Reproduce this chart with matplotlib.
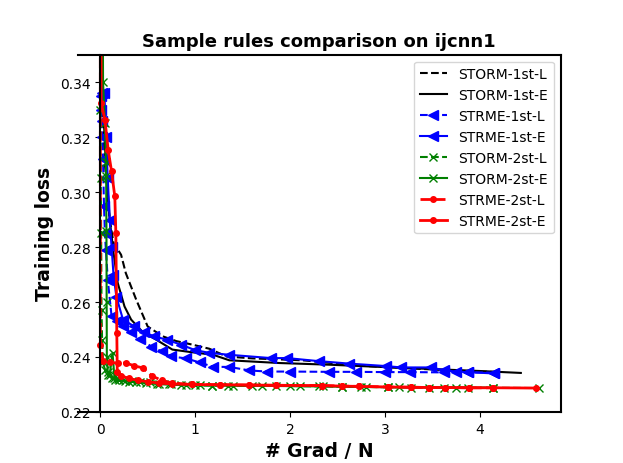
import matplotlib
matplotlib.use("Agg")
import matplotlib.pyplot as plt

# ---- data ----
storm1L_x = [0, 0.01, 0.05, 0.10, 0.14, 0.22, 0.27, 0.38, 0.50, 0.66, 0.80, 0.97, 1.15, 1.33, 1.60, 2.13, 2.76, 3.30, 3.90, 4.20]
storm1L_y = [0.693, 0.345, 0.310, 0.290, 0.2816, 0.2772, 0.2705, 0.2608, 0.2511, 0.2475, 0.2458, 0.2445, 0.2430, 0.2402, 0.2395, 0.2388, 0.2368, 0.2358, 0.2348, 0.2345]

storm1E_x = [0, 0.02, 0.06, 0.10, 0.14, 0.185, 0.256, 0.326, 0.45, 0.59, 0.76, 0.95, 1.19, 1.36, 1.89, 2.41, 2.94, 3.50, 4.00, 4.43]
storm1E_y = [0.693, 0.340, 0.310, 0.290, 0.278, 0.2669, 0.2584, 0.2536, 0.2490, 0.2463, 0.2427, 0.2418, 0.2408, 0.2388, 0.2378, 0.2372, 0.2364, 0.2356, 0.2349, 0.2342]

strme1L_x = [0, 0.005, 0.01, 0.015, 0.02, 0.03, 0.04, 0.05, 0.06, 0.08, 0.12, 0.18, 0.24, 0.32, 0.42, 0.54, 0.65, 0.75, 0.90, 1.05, 1.19, 1.36, 1.57, 1.76, 2.00, 2.41, 2.69, 3.00, 3.26, 3.62, 3.87, 4.15]
strme1L_y = [0.693, 0.335, 0.330, 0.326, 0.320, 0.312, 0.295, 0.285, 0.279, 0.268, 0.2548, 0.2530, 0.2511, 0.2490, 0.2465, 0.2438, 0.2420, 0.2402, 0.2395, 0.2380, 0.2364, 0.2364, 0.2351, 0.2347, 0.2347, 0.2346, 0.2346, 0.2345, 0.2345, 0.2344, 0.2344, 0.2343]

strme1E_x = [0, 0.02, 0.045, 0.06, 0.08, 0.10, 0.12, 0.14, 0.17, 0.24, 0.36, 0.46, 0.57, 0.70, 0.85, 1.00, 1.15, 1.36, 1.80, 1.97, 2.30, 2.62, 3.01, 3.17, 3.48, 3.62, 3.75, 3.87, 4.15]
strme1E_y = [0.693, 0.336, 0.336, 0.320, 0.305, 0.290, 0.280, 0.270, 0.262, 0.2536, 0.2511, 0.2490, 0.2475, 0.2463, 0.2445, 0.2425, 0.2415, 0.2408, 0.2396, 0.2396, 0.2385, 0.2376, 0.2367, 0.2362, 0.2362, 0.2352, 0.2347, 0.2345, 0.2340]

storm2L_x = [0, 0.002, 0.006, 0.010, 0.014, 0.02, 0.03, 0.05, 0.08, 0.12, 0.16, 0.20, 0.26, 0.33, 0.42, 0.52, 0.62, 0.75, 0.90, 1.05, 1.18, 1.35, 1.60, 1.85, 2.10, 2.35, 2.55, 2.75, 3.03, 3.15, 3.46, 3.75, 4.14, 4.62]
storm2L_y = [0.693, 0.330, 0.305, 0.285, 0.257, 0.2463, 0.2380, 0.2354, 0.2335, 0.2325, 0.2317, 0.2315, 0.2312, 0.2312, 0.2310, 0.2308, 0.2302, 0.2300, 0.2298, 0.2297, 0.2296, 0.2296, 0.2295, 0.2295, 0.2294, 0.2293, 0.2292, 0.2291, 0.2290, 0.2290, 0.2289, 0.2289, 0.2288, 0.2287]

storm2E_x = [0, 0.03, 0.05, 0.06, 0.063, 0.066, 0.068, 0.07, 0.08, 0.10, 0.13, 0.15, 0.19, 0.24, 0.30, 0.38, 0.48, 0.60, 0.72, 0.85, 1.00, 1.18, 1.40, 1.70, 2.00, 2.30, 2.55, 2.80, 3.03, 3.27, 3.62, 3.87, 4.14]
storm2E_y = [0.693, 0.340, 0.325, 0.311, 0.306, 0.2857, 0.260, 0.240, 0.2345, 0.2335, 0.2415, 0.2325, 0.2320, 0.2315, 0.2310, 0.2308, 0.2305, 0.2302, 0.2300, 0.2298, 0.2297, 0.2296, 0.2295, 0.2295, 0.2294, 0.2293, 0.2292, 0.2291, 0.2290, 0.2289, 0.2289, 0.2288, 0.2288]

strme2L_x = [0, 0.002, 0.03, 0.10, 0.19, 0.27, 0.36, 0.45, 0.55, 0.65, 0.76, 0.97, 1.26, 1.57, 1.85, 2.34, 2.55, 2.73, 3.03, 3.27, 3.46, 3.63, 3.88, 4.14]
strme2L_y = [0.693, 0.2444, 0.2384, 0.2380, 0.2378, 0.2378, 0.2368, 0.2360, 0.2330, 0.2315, 0.2305, 0.2300, 0.2299, 0.2298, 0.2297, 0.2296, 0.2294, 0.2293, 0.2291, 0.2290, 0.2289, 0.2289, 0.2288, 0.2288]

strme2E_x = [0, 0.01, 0.05, 0.084, 0.12, 0.154, 0.165, 0.175, 0.18, 0.22, 0.30, 0.40, 0.50, 0.62, 0.76, 0.97, 1.26, 1.57, 1.85, 2.34, 2.55, 2.73, 3.03, 3.27, 3.46, 3.63, 3.88, 4.14, 4.59]
strme2E_y = [0.693, 0.3325, 0.3263, 0.3154, 0.3075, 0.2984, 0.2850, 0.2487, 0.2345, 0.2332, 0.2322, 0.2315, 0.2310, 0.2305, 0.2302, 0.2300, 0.2299, 0.2298, 0.2297, 0.2296, 0.2294, 0.2293, 0.2291, 0.2290, 0.2289, 0.2289, 0.2288, 0.2288, 0.2287]

labels = ["STORM-1st-L", "STORM-1st-E", "STRME-1st-L", "STRME-1st-E",
          "STORM-2st-L", "STORM-2st-E", "STRME-2st-L", "STRME-2st-E"]

fig, ax = plt.subplots(figsize=(6.23, 4.64), dpi=100)

ax.plot(storm1L_x, storm1L_y, color="black", linestyle="--", lw=1.5, label=labels[0])
ax.plot(storm1E_x, storm1E_y, color="black", linestyle="-", lw=1.5, label=labels[1])
ax.plot(strme1L_x, strme1L_y, color="blue", linestyle="--", lw=1.5, marker="<", ms=7, label=labels[2])
ax.plot(strme1E_x, strme1E_y, color="blue", linestyle="-", lw=1.5, marker="<", ms=7, label=labels[3])
ax.plot(storm2L_x, storm2L_y, color="green", linestyle="--", lw=1.5, marker="x", ms=6, label=labels[4])
ax.plot(storm2E_x, storm2E_y, color="green", linestyle="-", lw=1.5, marker="x", ms=6, label=labels[5])
ax.plot(strme2L_x, strme2L_y, color="red", linestyle="--", lw=2, marker="o", ms=4, label=labels[6])
ax.plot(strme2E_x, strme2E_y, color="red", linestyle="-", lw=2, marker="o", ms=4, label=labels[7])

ax.set_ylim(0.22, 0.35)
ax.set_xlim(-0.235, 4.85)
ax.spines["left"].set_position(("data", 0))
for s in ["top", "right", "bottom", "left"]:
    ax.spines[s].set_linewidth(1.5)

ax.set_title("Sample rules comparison on ijcnn1", fontsize=13, fontweight="bold")
ax.set_xlabel("# Grad / N", fontsize=13.5, fontweight="bold")
ax.set_ylabel("Training loss", fontsize=13.5, fontweight="bold")
ax.legend(loc="upper right", fontsize=10)

fig.savefig("out.png", dpi=100)
